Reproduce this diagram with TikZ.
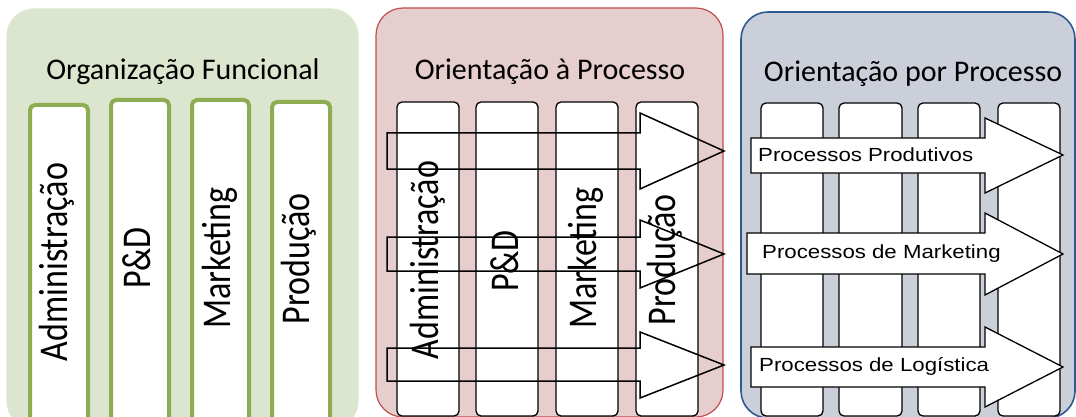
\documentclass[tikz,border=0pt]{standalone}
\usepackage{fontspec}
\setmainfont{Carlito}
\newfontfamily\arialf{Liberation Sans}
\usepackage{graphicx}
\definecolor{gfill}{HTML}{DCE6CF}
\definecolor{gline}{HTML}{8EAC52}
\definecolor{rfill}{HTML}{E6CDCE}
\definecolor{rline}{HTML}{C0504D}
\definecolor{bfill}{HTML}{CBCFD9}
\definecolor{bline}{HTML}{2E5B8E}
\tikzset{
  panel/.style={rounded corners=27pt, line width=1.2pt},
  gcol/.style={draw=gline, line width=4pt, fill=white, rounded corners=5pt},
  kcol/.style={draw=black, line width=1.3pt, fill=white, rounded corners=5pt},
  coltext/.style={rotate=90, inner sep=0pt, font=\fontsize{34}{40}\selectfont},
  title/.style={anchor=base, inner sep=0pt, font=\fontsize{30}{36}\selectfont},
  openarrow/.style={draw=black, line width=1.5pt, line join=miter},
  whitearrow/.style={draw=black, fill=white, line width=1.3pt, line join=miter},
  arrtext/.style={anchor=base west, inner sep=0pt, font=\arialf\fontsize{19}{23}\selectfont},
}
\newcommand{\stretchtxt}[1]{\scalebox{1}[1.2]{#1}}
\newcommand{\widetxt}[1]{\scalebox{1.17}[1]{#1}}
\begin{document}
\begin{tikzpicture}[x=1pt,y=-1pt]
\useasboundingbox (0,0) rectangle (1076,417);
\clip (0,0) rectangle (1076,417);
% panel 1
\draw[panel, fill=gfill, draw=gfill] (7,9) rectangle (358,428);
\node[title] (t1) at (183,80) {Organização Funcional};
\draw[gcol] (30,105) rectangle (88,445);
\draw[gcol] (111,100) rectangle (169,445);
\draw[gcol] (192,100) rectangle (249,445);
\draw[gcol] (272,102) rectangle (330,445);
\node[coltext] (a1) at (57,262) {\stretchtxt{Administração}};
\node[coltext] (b1) at (137,258) {\stretchtxt{P\&D}};
\node[coltext] (c1) at (220,258) {\stretchtxt{Marketing}};
\node[coltext] (d1) at (299,259) {\stretchtxt{Produção}};
% panel 2
\draw[panel, fill=rfill, draw=rline] (376,8) rectangle (723,417);
\node[title] (t2) at (550,80) {Orientação à Processo};
\draw[kcol] (397,102) rectangle (459,416);
\draw[kcol] (476,102) rectangle (538,416);
\draw[kcol] (556,102) rectangle (618,416);
\draw[kcol] (636,102) rectangle (698,416);
\node[coltext] (a2) at (428,260) {\stretchtxt{Administração}};
\node[coltext] (b2) at (505,261) {\stretchtxt{P\&D}};
\node[coltext] (c2) at (586,258) {\stretchtxt{Marketing}};
\node[coltext] (d2) at (665,260) {\stretchtxt{Produção}};
\draw[openarrow] (387,133) -- (640,133) -- (640,113) -- (724,151) -- (640,189) -- (640,169) -- (387,169) -- cycle;
\draw[openarrow] (387,237) -- (640,237) -- (640,220) -- (724,254) -- (640,288) -- (640,271) -- (387,271) -- cycle;
\draw[openarrow] (387,348) -- (640,348) -- (640,332) -- (724,365) -- (640,398) -- (640,381) -- (387,381) -- cycle;
% panel 3
\draw[panel, fill=bfill, draw=bline, line width=1.6pt] (741,12) rectangle (1075,418);
\node[title] (t3) at (913,82) {Orientação por Processo};
\draw[kcol] (761,103) rectangle (823,416);
\draw[kcol] (839,103) rectangle (902,416);
\draw[kcol] (918,103) rectangle (980,416);
\draw[kcol] (998,103) rectangle (1060,416);
\draw[whitearrow] (751,138) -- (985,138) -- (985,118) -- (1063,155) -- (985,193) -- (985,173) -- (751,173) -- cycle;
\draw[whitearrow] (747,233) -- (985,233) -- (985,213) -- (1063,254) -- (985,295) -- (985,274) -- (747,274) -- cycle;
\draw[whitearrow] (751,347) -- (985,347) -- (985,327) -- (1063,367) -- (985,407) -- (985,387) -- (751,387) -- cycle;
\node[arrtext] (pp) at (758,161) {\widetxt{Processos Produtivos}};
\node[arrtext] (pm) at (762,258) {\widetxt{Processos de Marketing}};
\node[arrtext] (pl) at (759,371) {\widetxt{Processos de Logística}};
\end{tikzpicture}
\end{document}
